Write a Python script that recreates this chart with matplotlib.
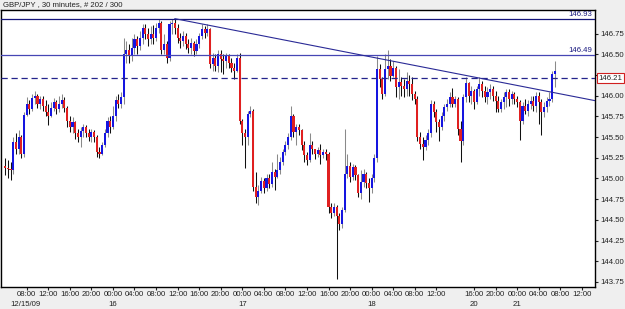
import numpy as np
import matplotlib
matplotlib.use("Agg")
import matplotlib.pyplot as plt
import matplotlib.transforms as mtransforms

plt.rcParams['font.family'] = ['Liberation Sans', 'DejaVu Sans']

# GBP/JPY 30 minute bars (bar index 0 = 12/15 04:00)
first_open = 145.15
closes = [
    145.13, 145.12, 145.10, 145.44, 145.35, 145.50, 145.30, 145.77, 145.90, 145.84,
    145.97, 146.00, 145.90, 145.96, 145.88, 145.80, 145.76, 145.85, 145.92, 145.84,
    145.90, 145.95, 145.85, 145.70, 145.62, 145.68, 145.55, 145.50, 145.57, 145.62,
    145.55, 145.50, 145.56, 145.50, 145.32, 145.30, 145.40, 145.55, 145.70, 145.62,
    145.75, 145.95, 145.90, 145.98, 146.50, 146.55, 146.48, 146.58, 146.68, 146.60,
    146.70, 146.82, 146.74, 146.68, 146.74, 146.70, 146.82, 146.88, 146.55, 146.62,
    146.45, 146.86, 146.88, 146.82, 146.70, 146.66, 146.72, 146.62, 146.58, 146.64,
    146.54, 146.62, 146.72, 146.80, 146.76, 146.80, 146.38, 146.45, 146.36, 146.50,
    146.44, 146.42, 146.48, 146.40, 146.34, 146.30, 146.45, 145.70, 145.55, 145.50,
    145.78, 145.82, 144.90, 144.78, 144.85, 144.97, 144.88, 145.00, 144.93, 145.08,
    145.02, 145.10, 145.20, 145.32, 145.40, 145.50, 145.75, 145.56, 145.62, 145.58,
    145.40, 145.28, 145.22, 145.40, 145.35, 145.30, 145.34, 145.28, 145.32, 145.30,
    144.66, 144.58, 144.65, 144.55, 144.45, 144.62, 145.05, 145.15, 145.02, 145.14,
    145.04, 144.82, 144.96, 145.05, 144.94, 144.88, 145.00, 145.25, 146.32, 146.20,
    146.02, 146.32, 146.36, 146.24, 146.34, 146.10, 146.16, 146.12, 146.08, 146.18,
    146.14, 146.02, 145.96, 145.50, 145.42, 145.38, 145.47, 145.55, 145.90, 145.80,
    145.68, 145.62, 145.75, 145.86, 145.90, 145.98, 145.90, 145.96, 145.60, 145.45,
    145.98, 146.15, 146.00, 146.06, 145.92, 146.08, 146.14, 146.06, 145.98, 146.04,
    146.08, 146.00, 145.94, 145.84, 145.92, 145.98, 146.04, 145.96, 146.02, 145.96,
    145.92, 145.70, 145.88, 145.82, 145.90, 145.94, 145.88, 146.00, 145.92, 145.80,
    145.86, 145.94, 145.96, 146.26, 146.30,
]
highs = [
    145.25, 145.22, 145.20, 145.50, 145.55, 145.58, 145.52, 145.80, 145.98, 145.95,
    146.02, 146.06, 146.02, 146.00, 146.00, 145.95, 145.90, 145.92, 145.97, 145.95,
    146.00, 146.02, 145.98, 145.88, 145.75, 145.74, 145.70, 145.60, 145.62, 145.66,
    145.65, 145.60, 145.60, 145.58, 145.52, 145.38, 145.44, 145.60, 145.74, 145.76,
    145.88, 146.00, 146.02, 146.05, 146.70, 146.66, 146.62, 146.70, 146.75, 146.72,
    146.78, 146.86, 146.86, 146.82, 146.84, 146.85, 146.88, 146.92, 146.90, 146.74,
    146.66, 146.90, 146.92, 146.93, 146.86, 146.76, 146.78, 146.76, 146.68, 146.70,
    146.66, 146.68, 146.76, 146.86, 146.84, 146.86, 146.82, 146.52, 146.50, 146.55,
    146.55, 146.50, 146.52, 146.50, 146.46, 146.40, 146.50, 146.52, 145.72, 145.60,
    145.82, 145.88, 145.84, 145.08, 144.92, 145.02, 145.00, 145.06, 145.05, 145.20,
    145.12, 145.30, 145.26, 145.36, 145.45, 145.55, 145.87, 145.78, 145.66, 145.66,
    145.60, 145.45, 145.32, 145.55, 145.45, 145.36, 145.38, 145.42, 145.36, 145.36,
    145.32, 144.70, 144.70, 144.68, 144.58, 144.66, 145.60, 145.30, 145.20, 145.18,
    145.16, 145.06, 145.10, 145.12, 145.08, 145.00, 145.05, 145.30, 146.48, 146.38,
    146.22, 146.50, 146.55, 146.44, 146.42, 146.36, 146.32, 146.22, 146.20, 146.28,
    146.25, 146.22, 146.06, 146.00, 145.56, 145.50, 145.52, 145.60, 145.95, 145.94,
    145.84, 145.72, 145.80, 145.90, 145.96, 146.04, 146.09, 146.00, 145.98, 145.70,
    146.02, 146.22, 146.16, 146.12, 146.08, 146.12, 146.22, 146.18, 146.12, 146.10,
    146.14, 146.12, 146.06, 146.00, 145.96, 146.04, 146.08, 146.08, 146.06, 146.04,
    146.00, 145.95, 145.92, 145.96, 145.95, 146.00, 146.00, 146.04, 146.04, 145.96,
    145.92, 145.98, 146.04, 146.30, 146.42,
]
lows = [
    145.04, 145.00, 144.98, 145.05, 145.30, 145.30, 145.25, 145.26, 145.75, 145.78,
    145.82, 145.90, 145.85, 145.84, 145.82, 145.75, 145.64, 145.74, 145.82, 145.78,
    145.80, 145.85, 145.80, 145.62, 145.56, 145.55, 145.48, 145.44, 145.38, 145.50,
    145.50, 145.45, 145.44, 145.44, 145.26, 145.25, 145.28, 145.38, 145.50, 145.55,
    145.60, 145.70, 145.85, 145.85, 145.90, 146.40, 146.40, 146.42, 146.50, 146.50,
    146.55, 146.62, 146.68, 146.60, 146.62, 146.62, 146.66, 146.76, 146.50, 146.50,
    146.40, 146.42, 146.74, 146.75, 146.64, 146.58, 146.60, 146.56, 146.52, 146.50,
    146.48, 146.50, 146.58, 146.68, 146.70, 146.72, 146.34, 146.30, 146.30, 146.28,
    146.28, 146.26, 146.34, 146.34, 146.28, 146.20, 146.28, 145.66, 145.40, 145.13,
    145.40, 145.74, 144.85, 144.70, 144.68, 144.82, 144.82, 144.85, 144.88, 144.90,
    144.86, 145.00, 145.05, 145.16, 145.28, 145.36, 145.46, 145.50, 145.40, 145.52,
    145.34, 145.20, 145.16, 145.20, 145.30, 145.24, 145.26, 145.18, 145.25, 145.22,
    144.58, 144.52, 144.55, 143.78, 144.38, 144.40, 144.60, 145.00, 144.96, 144.98,
    144.98, 144.78, 144.75, 144.90, 144.88, 144.72, 144.82, 144.96, 145.20, 146.10,
    145.96, 146.00, 146.20, 146.18, 146.22, 145.98, 145.96, 146.00, 145.98, 146.00,
    146.00, 145.95, 145.90, 145.45, 145.36, 145.22, 145.34, 145.40, 145.50, 145.74,
    145.56, 145.45, 145.58, 145.70, 145.82, 145.86, 145.86, 145.86, 145.52, 145.20,
    145.40, 145.92, 145.92, 145.90, 145.84, 145.90, 146.00, 145.98, 145.92, 145.90,
    145.96, 145.94, 145.80, 145.80, 145.80, 145.84, 145.86, 145.88, 145.90, 145.90,
    145.86, 145.46, 145.66, 145.78, 145.76, 145.84, 145.82, 145.80, 145.66, 145.53,
    145.74, 145.80, 145.88, 145.92, 146.10,
]

time_tick_pos = [8, 16, 24, 32, 40, 48, 56, 64, 72, 80, 88, 96, 104, 112, 120,
                 128, 136, 144, 152, 160, 174, 182, 190, 198, 206, 214]
time_tick_lab = ["08:00", "12:00", "16:00", "20:00", "00:00", "04:00", "08:00",
                 "12:00", "16:00", "20:00", "00:00", "04:00", "08:00", "12:00",
                 "16:00", "20:00", "00:00", "04:00", "08:00", "12:00", "16:00",
                 "20:00", "00:00", "04:00", "08:00", "12:00"]
date_pos = [7.4, 40, 88, 136, 174, 190]
date_lab = ["12/15/09", "16", "17", "18", "20", "21"]

price_ticks = [143.75, 144.00, 144.25, 144.50, 144.75, 145.00, 145.25, 145.50,
               145.75, 146.00, 146.25, 146.50, 146.75]

high_line = 146.93
mid_line = 146.49
last_price = 146.21
trend_from = (63, 146.93)
trend_to = (218.9, 145.94)

# ---- figure
W, H = 625, 309
fig = plt.figure(figsize=(W / 100, H / 100), dpi=100, facecolor='#efefef')
ax = fig.add_axes([1 / W, (H - 286.7) / H, 594 / W, 276.4 / H])
ax.set_facecolor('white')

o = np.array([first_open] + closes[:-1])
c = np.array(closes)
h = np.maximum(np.array(highs), np.maximum(o, c))
l = np.minimum(np.array(lows), np.minimum(o, c))
x = np.arange(len(c))
up = c >= o

wick_col = np.where(up, '#8a8a8a', '#101010')
ax.vlines(x, l, h, colors=wick_col, linewidth=0.75, zorder=2)
body_col = np.where(up, '#1515e0', '#e02020')
ax.bar(x, np.maximum(np.abs(c - o), 0.012), bottom=np.minimum(o, c),
       width=0.78, color=body_col, linewidth=0, zorder=3)

navy = '#14147a'
ax.axhline(high_line, color=navy, lw=0.9, zorder=4)
ax.axhline(mid_line, color='#4646b4', lw=0.9, zorder=4)
ax.axhline(last_price, color='#24248c', lw=0.9, ls=(0, (5, 3)), zorder=4)
ax.plot([trend_from[0], trend_to[0]], [trend_from[1], trend_to[1]],
        color='#2a2a96', lw=0.8, zorder=4)

ax.set_xlim(-1.54, 218.9)
ax.set_ylim(143.693, 147.031)

fs = 5.6
txt = '#222222'
ax.text(218.0, high_line + 0.012, f"{high_line:.2f}", ha='right', va='bottom',
        fontsize=fs, color='#1a1a80', zorder=5)
ax.text(218.0, mid_line + 0.012, f"{mid_line:.2f}", ha='right', va='bottom',
        fontsize=fs, color='#1a1a80', zorder=5)

ax.yaxis.tick_right()
ax.set_yticks(price_ticks)
# the 146.25 label sits under the last-price box
ax.set_yticklabels(["" if abs(t - 146.25) < 1e-9 else f"{t:.2f}" for t in price_ticks])
ax.tick_params(axis='y', length=2.5, width=0.8, pad=1, labelsize=fs, colors=txt)
ax.text(1.0055, last_price, f"{last_price:.2f}",
        transform=mtransforms.blended_transform_factory(ax.transAxes, ax.transData),
        ha='left', va='center', fontsize=fs, color=txt, zorder=6,
        bbox=dict(boxstyle='square,pad=0.18', fc='white', ec='#d02020', lw=0.8))

ax.set_xticks(time_tick_pos)
ax.set_xticklabels(time_tick_lab)
ax.tick_params(axis='x', length=2.2, width=0.8, pad=1.2, labelsize=fs, colors=txt)

trans = mtransforms.blended_transform_factory(ax.transData, fig.transFigure)
for p, t in zip(date_pos, date_lab):
    ax.text(p, 1 - 304.5 / H, t, transform=trans, ha='center', va='center',
            fontsize=fs, color=txt, clip_on=False)

for s in ax.spines.values():
    s.set_color('black')
    s.set_linewidth(1.0)

fig.text(3 / W, 1 - 5 / H, "GBP/JPY , 30 minutes, # 202 / 300", ha='left', va='center',
         fontsize=fs, color=txt)

fig.savefig('out.png', dpi=100, facecolor=fig.get_facecolor())
